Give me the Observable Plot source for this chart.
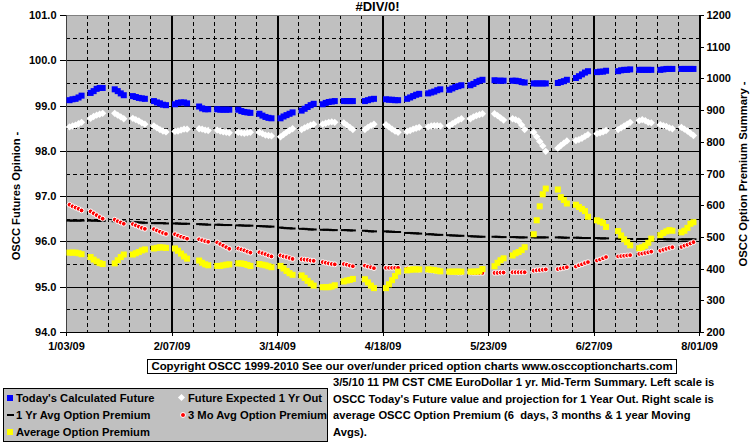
<!DOCTYPE html>
<html><head><meta charset="utf-8">
<script src="https://cdn.jsdelivr.net/npm/d3@7"></script>
<script src="https://cdn.jsdelivr.net/npm/@observablehq/plot@0.6"></script>
<style>
body{margin:0;background:#fff;}
#wrap{position:relative;width:755px;height:446px;overflow:hidden;font-family:"Liberation Sans",Arial,sans-serif;font-weight:bold;color:#000;}
#chart{position:absolute;left:0;top:0;}
.abs{position:absolute;white-space:nowrap;}
#title{left:0;width:755px;top:-1px;text-align:center;font-size:13px;}
#ylab{left:16px;top:196px;font-size:11.2px;transform:translate(-50%,-50%) rotate(-90deg);}
#ylab2{left:743px;top:174px;font-size:11.3px;transform:translate(-50%,-50%) rotate(-90deg);}
#copy{left:147px;top:359px;width:528px;height:13px;border:1px solid #000;font-size:11.4px;line-height:13px;text-align:center;}
#legend{left:3px;top:388px;width:323px;height:52px;border:1px solid #000;background:#c0c0c0;font-size:11.2px;}
.item{position:absolute;line-height:14px;}
.sym{position:absolute;}
#desc{left:333px;top:374px;font-size:11.2px;line-height:16.7px;}
</style></head><body><div id="wrap">
<div id="chart"></div>
<div id="title" class="abs"></div>
<div id="ylab" class="abs"></div>
<div id="ylab2" class="abs"></div>
<div id="copy" class="abs"></div>
<div id="legend" class="abs"></div>
<div id="desc" class="abs"></div>
</div>
<script>
// ---------- DATA ----------
const titleText = "#DIV/0!";
const leftTitle = "OSCC Futures Opinion -";
const rightTitle = "OSCC Option Premium Summary -";
const copyrightText = "Copyright OSCC 1999-2010 See our over/under priced option charts www.osccoptioncharts.com";
const descLines = [
  "3/5/10 11 PM CST CME EuroDollar 1 yr. Mid-Term Summary. Left scale is",
  "OSCC Today's Future value and projection for 1 Year Out. Right scale is",
  "average OSCC Option Premium (6\u00a0 days, 3 months & 1 year Moving",
  "Avgs)."
];
const seriesNames = ["Today's Calculated Future","Future Expected 1 Yr Out","1 Yr Avg Option Premium","3 Mo Avg Option Premium","Average Option Premium"];
const xTickLabels = ["1/03/09","2/07/09","3/14/09","4/18/09","5/23/09","6/27/09","8/01/09"];
const leftTicks = [94,95,96,97,98,99,100,101];
const rightTicks = [200,300,400,500,600,700,800,900,1000,1100,1200];
// weekly groups of daily points (plotted from this first day of week 0)
const firstDay = "2009-01-04";
// weeks with a missing trading day: week index -> missing weekday slot
const missingSlot = {2:0, 6:0, 13:4, 14:4, 20:0, 23:0, 25:4};

const todaysFuture = [
 [99.13,99.15,99.16,99.19,99.23],[99.29,99.33,99.38,99.40,99.40],[99.37,99.33,99.28,99.24],
 [99.22,99.20,99.18,99.17,99.16],[99.11,99.08,99.06,99.03,99.02],[99.04,99.07,99.08,99.08,99.06],
 [98.99,98.95,98.93,98.93],[98.93,98.92,98.92,98.92,98.92],[98.92,98.89,98.87,98.86,98.85],
 [98.83,98.79,98.76,98.74,98.73],[98.73,98.77,98.80,98.83,98.86],[98.90,98.94,98.98,99.02,99.05],
 [99.04,99.07,99.09,99.10,99.11],[99.11,99.11,99.11,99.11],[99.11,99.13,99.15,99.16],
 [99.15,99.14,99.14,99.13,99.13],[99.16,99.19,99.22,99.25,99.27],[99.28,99.30,99.32,99.35,99.37],
 [99.36,99.39,99.42,99.44,99.46],[99.46,99.49,99.53,99.56,99.58],[99.57,99.56,99.56,99.56],
 [99.56,99.56,99.55,99.53,99.52],[99.50,99.50,99.50,99.50,99.50],[99.51,99.53,99.55,99.58],
 [99.62,99.66,99.70,99.74,99.77],[99.75,99.76,99.76,99.78],[99.77,99.79,99.80,99.80,99.81],
 [99.80,99.80,99.80,99.80,99.80],[99.80,99.81,99.82,99.82,99.82],[99.82,99.82,99.82,99.82,99.82]
];
const expected1Yr = [
 [98.54,98.56,98.58,98.61,98.64],[98.73,98.77,98.80,98.82,98.84],[98.84,98.80,98.76,98.72],
 [98.73,98.70,98.67,98.63,98.60],[98.56,98.52,98.48,98.45,98.43],[98.44,98.45,98.47,98.49,98.49],
 [98.50,98.49,98.47,98.46],[98.47,98.45,98.43,98.42,98.41],[98.42,98.41,98.40,98.41,98.42],
 [98.42,98.39,98.36,98.35,98.34],[98.32,98.37,98.42,98.46,98.50],[98.48,98.52,98.55,98.58,98.60],
 [98.60,98.62,98.64,98.65,98.64],[98.63,98.58,98.53,98.48],[98.48,98.53,98.57,98.60],
 [98.59,98.54,98.49,98.45,98.42],[98.44,98.46,98.49,98.51,98.53],[98.54,98.56,98.57,98.57,98.56],
 [98.57,98.61,98.65,98.69,98.72],[98.72,98.76,98.79,98.81,98.83],[98.83,98.79,98.74,98.69],
 [98.72,98.70,98.67,98.58,98.48],[98.42,98.32,98.22,98.12,98.00],[98.07,98.13,98.18,98.23],
 [98.24,98.26,98.29,98.33,98.37],[98.39,98.41,98.43,98.46],[98.48,98.52,98.56,98.60,98.64],
 [98.68,98.70,98.68,98.64,98.63],[98.59,98.57,98.55,98.52,98.50],[98.53,98.49,98.45,98.40,98.35]
];
const avg1Yr = [
 [553,553,553,553,553],[553,553,553,552,552],[551,551,550,550],
 [548,548,547,547,546],[545,545,545,545,544],[544,544,543,543,543],
 [542,541,541,540],[540,540,539,539,539],[538,538,537,537,537],
 [536,535,535,534,534],[531,530,529,529,528],[527,527,526,525,525],
 [524,524,524,523,523],[523,523,522,522],[521,520,519,519],
 [519,518,518,517,517],[514,514,513,513,512],[510,510,509,508,508],
 [507,506,506,505,505],[504,503,503,502,502],[502,502,501,501],
 [501,501,500,500,500],[500,500,500,500,500],[500,500,499,499],
 [499,499,498,498,498],[498,497,497,497],[496,496,496,495,495],
 [495,495,495,495,495],[495,495,494,494,494],[494,494,494,494,494]
];
const avg3Mo = [
 [603,598,594,590,585],[582,576,570,564,559],[556,551,547,543],
 [542,538,534,530,527],[526,522,518,514,511],[510,506,502,499,496],
 [494,491,488,486],[484,479,474,469,464],[465,462,459,455,452],
 [453,450,447,443,440],[443,440,438,435,432],[431,430,429,427,426],
 [422,420,418,416,415],[416,414,411,409],[411,408,406,403],
 [404,404,404,404,404],[402,401,400,399,398],[397,396,395,394,393],
 [392,391,390,389,389],[389,388,388,388,388],[388,388,389,389],
 [390,390,390,390,390],[395,396,397,398,399],[400,402,404,406],
 [408,412,415,419,422],[427,430,434,438],[440,441,442,443,444],
 [448,449,451,453,455],[458,461,464,467,469],[470,474,477,481,485]
];
const avgPremium = [
 [452,452,452,450,447],[438,430,424,419,416],[418,428,438,446],
 [446,450,454,459,462],[465,467,469,468,467],[465,458,449,440,433],
 [427,420,415,412],[410,410,412,414,415],[418,418,416,413,410],
 [416,414,412,409,406],[410,402,394,387,382],[380,372,363,355,348],
 [343,343,343,345,349],[361,364,366,369],[368,358,348,340],
 [340,352,365,378,392],[396,398,399,399,399],[399,398,397,395,393],
 [392,392,392,392,392],[392,392,392,393,400],[409,420,428,434],
 [443,450,454,460,469],[510,554,598,636,654],[651,627,618,607],
 [603,596,590,583,565],[554,550,546,533],[520,506,494,485,475],
 [466,469,474,483,496],[507,514,519,523,521],[516,521,530,543,548]
];

// ---------- BUILD ----------
const parseLbl = d3.utcParse("%m/%d/%y");
const majorDates = xTickLabels.map(parseLbl);
const start = d3.utcParse("%Y-%m-%d")(firstDay);
function rows(weeks){
  const out = [];
  weeks.forEach((vals, w) => {
    const slots = [0,1,2,3,4].filter(s => missingSlot[w] !== s);
    vals.forEach((v, i) => out.push({date: d3.utcDay.offset(start, 7*w + slots[i]), v}));
  });
  return out;
}
const toLeft = v => 94 + (v - 200) * 7 / 1000;
const fromLeft = y => Math.round((y - 94) * 1000 / 7 + 200);

const blueRows = rows(todaysFuture);
const whiteRows = rows(expected1Yr);
const blackRows = rows(avg1Yr).map(d => ({date:d.date, v:toLeft(d.v)}));
const redRows = rows(avg3Mo).map(d => ({date:d.date, v:toLeft(d.v)}));
const yellowRows = rows(avgPremium).map(d => ({date:d.date, v:toLeft(d.v)}));

const weekly = d3.utcSaturday.range(majorDates[0], majorDates[majorDates.length-1])
  .filter(d => !majorDates.some(m => +m === +d));
const halfLines = leftTicks.slice(0,-1).map(t => t + 0.5);
const innerInts = leftTicks.slice(1,-1);

const dashSym = {draw(ctx, size){ const r = Math.sqrt(size/Math.PI); ctx.rect(-r, -1, 2*r, 2); }};
const fmtX = d3.utcFormat("%-m/%d/%y");
const crisp = {shapeRendering:"crispEdges"};

const chart = Plot.plot({
  width: 755, height: 360,
  marginLeft: 66, marginRight: 56, marginTop: 15, marginBottom: 28,
  style: {background:"transparent", fontFamily:"'Liberation Sans', Arial, sans-serif", fontSize:"11px", fontWeight:"bold", color:"#000", overflow:"visible"},
  x: {type:"utc", domain:[majorDates[0], majorDates[majorDates.length-1]]},
  y: {domain:[94,101]},
  marks: [
    Plot.frame({fill:"#c0c0c0", stroke:null}),
    Plot.ruleY(halfLines, {stroke:"#000", strokeDasharray:"4,3", ...crisp}),
    Plot.ruleY(innerInts, {stroke:"#000", ...crisp}),
    Plot.ruleX(weekly, {stroke:"#000", strokeDasharray:"4,3", ...crisp}),
    Plot.ruleX(majorDates.slice(1,-1), {stroke:"#000", strokeWidth:2, ...crisp}),
    Plot.ruleY([101], {stroke:"#808080", ...crisp}),
    Plot.ruleY([94], {stroke:"#000", ...crisp}),
    Plot.ruleX([majorDates[0]], {stroke:"#404040", ...crisp}),
    Plot.ruleX([majorDates[majorDates.length-1]], {stroke:"#000", strokeWidth:2, ...crisp}),
    Plot.dot(blueRows, {x:"date", y:"v", symbol:"square", r:3.4, fill:"#0000ff", stroke:null}),
    Plot.dot(whiteRows, {x:"date", y:"v", symbol:"diamond2", r:3.3, fill:"#ffffff", stroke:null}),
    Plot.dot(blackRows, {x:"date", y:"v", symbol:dashSym, r:3, fill:"#000", stroke:null}),
    Plot.dot(redRows, {x:"date", y:"v", r:2.4, fill:"#ff0000", stroke:"#ffffff", strokeWidth:1}),
    Plot.dot(yellowRows, {x:"date", y:"v", symbol:"square", r:3.4, fill:"#ffff00", stroke:null}),
    Plot.axisY(leftTicks, {anchor:"left", tickSize:6, tickPadding:4, tickFormat:d => d.toFixed(1), label:null, ...crisp}),
    Plot.axisY(rightTicks.map(toLeft), {anchor:"right", tickSize:4, tickPadding:3, tickFormat:d => String(fromLeft(d)), label:null, ...crisp}),
    Plot.axisX(majorDates, {anchor:"bottom", tickSize:4, tickPadding:6, tickFormat:fmtX, label:null, ...crisp})
  ]
});
document.getElementById("chart").appendChild(chart);

document.getElementById("title").textContent = titleText;
document.getElementById("ylab").textContent = leftTitle;
document.getElementById("ylab2").textContent = rightTitle;
document.getElementById("copy").textContent = copyrightText;
const desc = document.getElementById("desc");
desc.innerHTML = descLines.map(l => l.replace(/&/g,"&amp;")).join("<br>");

// legend
const colors = ["#0000ff","#ffffff","#000000","#ff0000","#ffff00"];
const legendPos = [[2,2],[174,2],[2,19],[174,19],[2,36]];
const legend = document.getElementById("legend");
seriesNames.forEach((name, i) => {
  const [lx, ly] = legendPos[i];
  const sym = document.createElement("div");
  sym.className = "sym";
  if (i === 0 || i === 4) Object.assign(sym.style, {left:(lx+1)+"px", top:(ly+4)+"px", width:"6px", height:"6px", background:colors[i]});
  else if (i === 1) Object.assign(sym.style, {left:(lx+1)+"px", top:(ly+4)+"px", width:"5px", height:"5px", background:"#fff", transform:"rotate(45deg)"});
  else if (i === 2) Object.assign(sym.style, {left:(lx+1)+"px", top:(ly+6)+"px", width:"7px", height:"2px", background:"#000"});
  else Object.assign(sym.style, {left:(lx+2)+"px", top:(ly+4)+"px", width:"4px", height:"4px", borderRadius:"50%", background:"#f00", border:"1px solid #fff"});
  legend.appendChild(sym);
  const t = document.createElement("div");
  t.className = "item";
  t.style.left = (lx + 10) + "px";
  t.style.top = ly + "px";
  t.textContent = name;
  legend.appendChild(t);
});
</script>
</body></html>
